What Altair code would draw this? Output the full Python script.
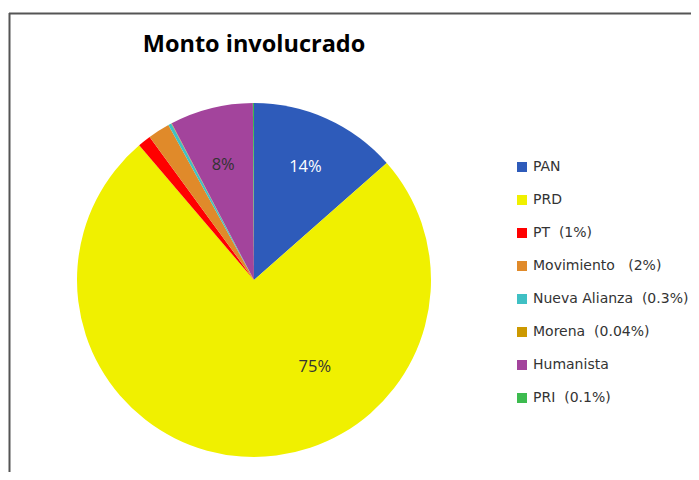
import altair as alt
import pandas as pd

NB = "\u00a0"
parties = ["PAN", "PRD", "PT", "Movimiento", "Nueva Alianza", "Morena", "Humanista", "PRI"]
values = [13.5, 75.3, 1.2, 2.0, 0.3, 0.04, 7.6, 0.1]
legend_labels = ["PAN", "PRD", "PT" + NB * 2 + "(1%)", "Movimiento" + NB * 3 + "(2%)",
                 "Nueva Alianza" + NB * 2 + "(0.3%)", "Morena" + NB * 2 + "(0.04%)",
                 "Humanista", "PRI" + NB * 2 + "(0.1%)"]
colors = ["#2E5BBA", "#F0F000", "#FF0000", "#E08A2A", "#3FC0C4", "#CC9900", "#A3449C", "#3DBB4F"]

slice_labels = ["14%", "75%", "8%"]
label_angles = [24.5, 145.0, 345.0]
label_radii = [124, 106, 119]
label_colors = ["#FFFFFF", "#333333", "#333333"]

df = pd.DataFrame({"party": legend_labels, "value": values, "ord": list(range(len(parties)))})
lab = pd.DataFrame({"label": slice_labels, "ang": label_angles, "r": label_radii, "col": label_colors})

W, H = 683, 464
CX, CY, R = 246, 272, 177

pie = alt.Chart(df).mark_arc(outerRadius=R, stroke=None).encode(
    theta=alt.Theta("value:Q", stack=True),
    order=alt.Order("ord:Q", sort="ascending"),
    color=alt.Color("party:N",
                    scale=alt.Scale(domain=legend_labels, range=colors),
                    sort=legend_labels,
                    legend=alt.Legend(title=None, orient="none", legendX=507, legendY=152,
                                      symbolType="square", symbolSize=100, symbolStrokeWidth=0,
                                      labelFontSize=14, labelFont="DejaVu Sans", labelColor="#333333",
                                      rowPadding=19, labelOffset=4, padding=0, labelLimit=300)),
    x=alt.value(CX), y=alt.value(CY),
)

labels = alt.Chart(lab).mark_text(fontSize=16.5, font="Open Sans").encode(
    theta=alt.Theta("ang:Q", stack=None, scale=alt.Scale(domain=[0, 360], range=[0, 6.283185307])),
    radius=alt.Radius("r:Q", scale=alt.Scale(type="linear", domain=[0, R], range=[0, R], zero=True)),
    text="label:N",
    color=alt.Color("col:N", scale=None),
    x=alt.value(CX), y=alt.value(CY),
)

border_df = pd.DataFrame({"k": [0]})
vline = alt.Chart(border_df).mark_rule(color="#555555", strokeWidth=2).encode(
    x=alt.value(1.5), y=alt.value(5), y2=alt.value(H + 10))
hline = alt.Chart(border_df).mark_rule(color="#555555", strokeWidth=2).encode(
    x=alt.value(1), x2=alt.value(W + 10), y=alt.value(5.5))

chart = alt.layer(vline, hline, pie, labels).properties(
    width=W, height=H,
    autosize=alt.AutoSizeParams(type="none"),
    padding=0,
    title=alt.TitleParams("Monto involucrado", frame="group", anchor="middle", orient="top",
                          dx=CX - W / 2, dy=72, fontSize=23.5, font="Open Sans", fontWeight="bold",
                          color="#000000", baseline="bottom", offset=0),
).configure_view(stroke=None).resolve_scale(color="independent", theta="independent",
                                            radius="independent")

chart.save("out.html", embed_options={"renderer": "svg", "actions": False})
